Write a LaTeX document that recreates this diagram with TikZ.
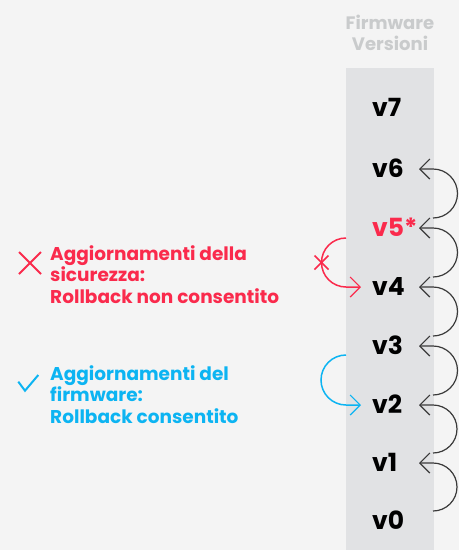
\documentclass[tikz,border=0pt]{standalone}
\usepackage{fontspec}
\setmainfont{Poppins}
\usetikzlibrary{arrows.meta,calc}
\definecolor{bgc}{HTML}{F4F4F4}
\definecolor{colc}{HTML}{E1E2E4}
\definecolor{titc}{HTML}{C9CBCC}
\definecolor{redc}{HTML}{FA2A4C}
\definecolor{bluc}{HTML}{0CB4F2}
\definecolor{grc}{HTML}{3A3A3A}
\tikzset{
  ver/.style={anchor=west,inner sep=0pt,font=\fontsize{25}{25}\selectfont\bfseries,text height=17.5pt,text depth=0pt},
  ttl/.style={font=\fontsize{18}{21}\selectfont\bfseries,text=titc,align=center,inner sep=0pt,anchor=base},
  side/.style={anchor=base west,inner sep=0pt,align=left,font=\fontsize{18.5}{21.5}\selectfont\bfseries},
  barb/.style={-{Straight Barb[length=10pt,width=20pt,line width=1.2pt]}},
  garrow/.style={barb,draw=grc,line width=1.2pt},
}
\begin{document}
\begin{tikzpicture}[x=1pt,y=-1pt]
\fill[bgc] (0,0) rectangle (459,550);
\useasboundingbox (0,0) rectangle (459,550);
\fill[colc] (346,68) rectangle (434,550);
\node[ttl] (title) at (390,50) {Firmware\\Versioni};
\node[ver] (v7) at (372,108) {v7};
\node[ver] (v6) at (372,169) {v6};
\node[ver,text=redc] (v5) at (372,228) {v5*};
\node[ver] (v4) at (372,287) {v4};
\node[ver] (v3) at (372,346) {v3};
\node[ver] (v2) at (372,405) {v2};
\node[ver] (v1) at (372,463) {v1};
\node[ver] (v0) at (372,521) {v0};
\foreach \a/\b in {v0/v1,v1/v2,v2/v3,v3/v4,v4/v5,v5/v6}{
  \draw[garrow] let \p1=([xshift=61pt,yshift=10pt]\a.west), \p2=(\b.west) in
    (\p1) arc[start angle=-90,end angle=90,radius={(\y2-\y1)/2}] -- ([xshift=47pt]\b.west);
}
% red
\draw[barb,draw=redc,line width=1.5pt] ([xshift=-26pt,yshift=49pt]v4.west) arc[start angle=90,end angle=270,radius=24.5pt] -- ([xshift=-11pt]v4.west);
\coordinate (rx) at (321.5,262.5);
\draw[redc,line width=1.5pt] ([shift={(-7pt,-7pt)}]rx) -- ([shift={(7pt,7pt)}]rx) ([shift={(-7pt,7pt)}]rx) -- ([shift={(7pt,-7pt)}]rx);
% blue
\draw[barb,draw=bluc,line width=1.5pt] ([xshift=-26pt,yshift=50pt]v2.west) arc[start angle=90,end angle=270,radius=25pt] -- ([xshift=-11pt]v2.west);
% side texts
\coordinate (xc) at (30,263);
\draw[redc,line width=2pt] ([shift={(-11pt,-11pt)}]xc) -- ([shift={(11pt,11pt)}]xc) ([shift={(-11pt,11pt)}]xc) -- ([shift={(11pt,-11pt)}]xc);
\node[side,text=redc] (sec) at (50,303) {Aggiornamenti della\\sicurezza:\\Rollback non consentito};
\coordinate (ck) at (18.3,381.7);
\draw[bluc,line width=2pt] (ck) -- ++(6.7,9) -- ++(13.3,-15.7);
\node[side,text=bluc] (fw) at (50,423) {Aggiornamenti del\\firmware:\\Rollback consentito};
\end{tikzpicture}
\end{document}
